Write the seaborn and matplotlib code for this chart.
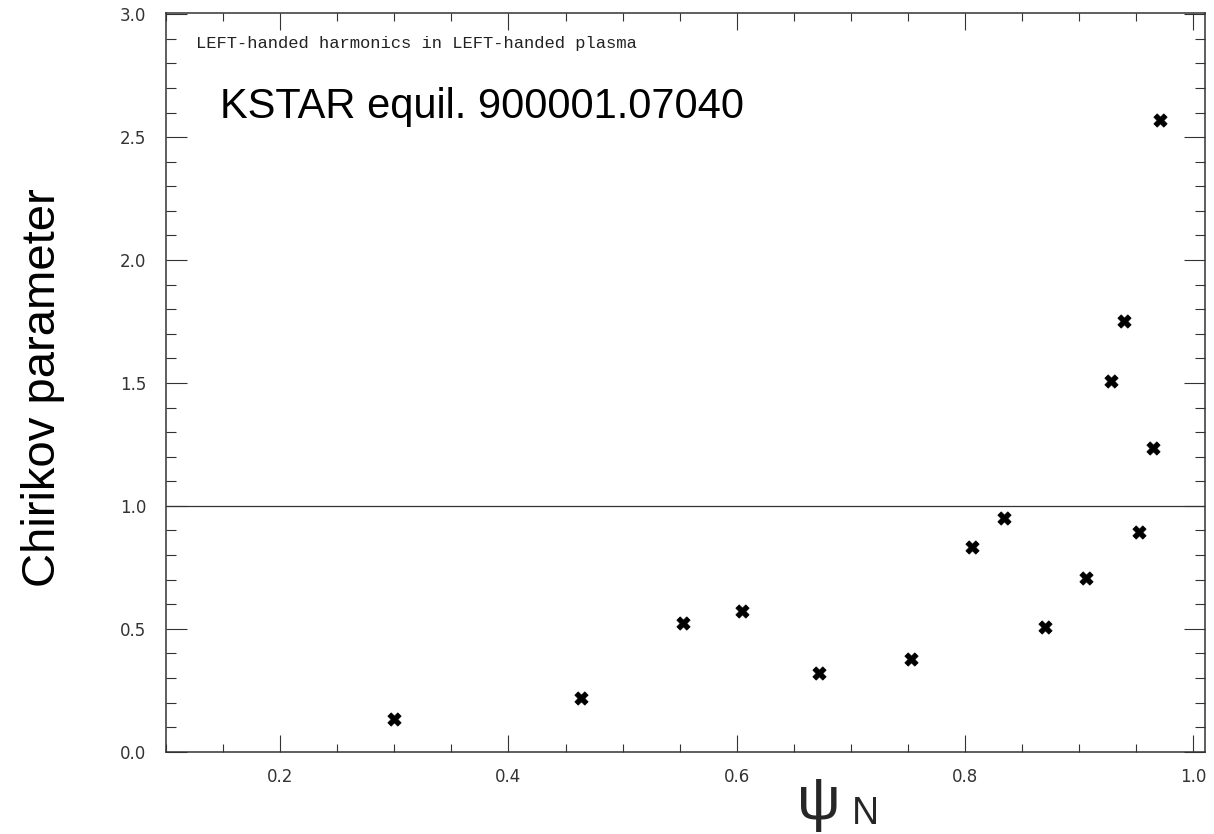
import pandas as pd
import matplotlib
matplotlib.use('Agg')
import matplotlib.pyplot as plt
from matplotlib.ticker import MultipleLocator, FormatStrFormatter
import seaborn as sns

# Chirikov parameter vs psi_N (KSTAR equil. 900001.07040)
psi_n = [0.300, 0.464, 0.553, 0.605, 0.672, 0.753, 0.806, 0.834,
         0.870, 0.906, 0.928, 0.939, 0.952, 0.965, 0.971]
chirikov = [0.133, 0.219, 0.523, 0.573, 0.321, 0.377, 0.831, 0.950,
            0.508, 0.705, 1.507, 1.751, 0.894, 1.235, 2.570]

x_ticks = [0.2, 0.4, 0.6, 0.8, 1.0]
y_ticks = [0.0, 0.5, 1.0, 1.5, 2.0, 2.5, 3.0]

data = pd.DataFrame({'psi_N': psi_n, 'chirikov': chirikov})

sns.set_style('ticks')
plt.rcParams['font.family'] = ['Liberation Sans', 'DejaVu Sans']

fig = plt.figure(figsize=(12.14, 8.34), dpi=100)
ax = fig.add_axes([0.1367, 0.0987, 0.8559, 0.8863])

sns.scatterplot(data=data, x='psi_N', y='chirikov', marker='X', s=90,
                color='black', edgecolor='black', linewidth=0.6,
                legend=False, ax=ax, zorder=3)
ax.axhline(1.0, color='#333333', lw=0.9, zorder=2)

ax.set_xlim(0.1, 1.0102)
ax.set_ylim(0.0, 3.007)
ax.set_xticks(x_ticks)
ax.set_yticks(y_ticks)
ax.xaxis.set_minor_locator(MultipleLocator(0.05))
ax.yaxis.set_minor_locator(MultipleLocator(0.1))
ax.xaxis.set_major_formatter(FormatStrFormatter('%.1f'))
ax.yaxis.set_major_formatter(FormatStrFormatter('%.1f'))

ax.tick_params(which='both', direction='in', top=True, right=True,
               color='#333333', width=0.8, labelcolor='#333333')
ax.tick_params(axis='x', which='major', length=12, pad=12, labelsize=12)
ax.tick_params(axis='x', which='minor', length=5.5)
ax.tick_params(axis='y', which='major', length=15, pad=14, labelsize=12)
ax.tick_params(axis='y', which='minor', length=7)
for lab in ax.get_xticklabels() + ax.get_yticklabels():
    lab.set_family('DejaVu Sans')

for sp in ax.spines.values():
    sp.set_linewidth(1.1)
    sp.set_color('#333333')

ax.set_ylabel('Chirikov parameter', fontsize=34, color='black')
ax.yaxis.set_label_coords(-0.097, 0.493)

# psi_N label: upright psi with a subscript N, placed right of centre
ax.set_xlabel('')
ax.text(0.607, -0.032, 'ψ', transform=ax.transAxes, family='Liberation Sans',
        fontsize=44, va='top', ha='left')
ax.text(0.660, -0.098, 'N', transform=ax.transAxes, family='Liberation Sans',
        fontsize=27, va='baseline', ha='left')

fig.text(0.1614, 0.9424, 'LEFT-handed harmonics in LEFT-handed plasma',
         family='Liberation Mono', fontsize=12.3, va='baseline', color='#222222')
fig.text(0.1812, 0.8585, 'KSTAR equil. 900001.07040',
         fontsize=30, va='baseline', color='black')

fig.savefig('out.png', dpi=100)
